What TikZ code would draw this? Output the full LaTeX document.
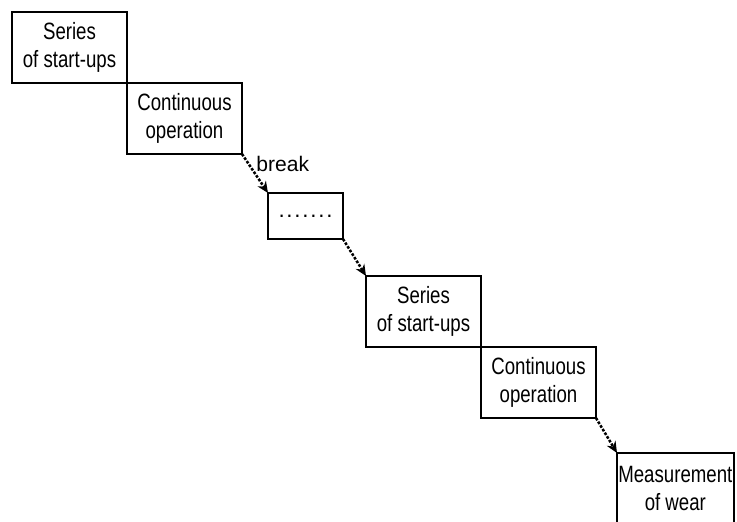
\documentclass[tikz,border=0pt]{standalone}
\usepackage{fontspec}
\newfontfamily\narrowsf[FakeStretch=0.79]{Liberation Sans}
\newfontfamily\plainsf{Liberation Sans}
\newfontfamily\dotsf[LetterSpace=8]{Liberation Sans}
\usetikzlibrary{arrows.meta, positioning}

\begin{document}
\begin{tikzpicture}[
    box/.style={draw, line width=1.7pt, outer sep=0pt, minimum width=86.25pt, minimum height=53.25pt,
      inner sep=1pt, align=center, font=\narrowsf\fontsize{17.7pt}{20.5pt}\selectfont},
    gapbox/.style={draw, line width=2pt, outer sep=0pt, minimum width=56.25pt, minimum height=34.5pt,
      inner sep=1pt, font=\dotsf\fontsize{16.7pt}{19.5pt}\selectfont},
    lbl/.style={inner sep=1pt, font=\plainsf\fontsize{15.8pt}{18pt}\selectfont},
    arr/.style={-{Stealth[length=8.5pt, width=7.5pt]}, line width=1.9pt, dash pattern=on 2pt off 1.2pt},
  ]
  \useasboundingbox (0,0) rectangle (552.75pt,-390.75pt);
  \clip (0,0) rectangle (552.75pt,-390.75pt);

  % first round
  \node[box, anchor=north west] (s1) at (9pt,-9pt) {Series\\of start-ups};
  \node[box, below right=0pt and 0pt of s1] (c1) {Continuous\\operation};
  \node[gapbox, below right=29.25pt and 19.5pt of c1] (br) {.......};

  % last round
  \node[box, below right=27.75pt and 17.25pt of br] (s2) {Series\\of start-ups};
  \node[box, below right=0pt and 0pt of s2] (c2) {Continuous\\operation};
  \node[box, below right=26.25pt and 15.75pt of c2] (m) {Measurement\\of wear};

  \draw[arr] (c1.south east) -- node[lbl, pos=0.25, anchor=west, xshift=4pt] {break} (br.north west);
  \draw[arr] (br.south east) -- (s2.north west);
  \draw[arr] (c2.south east) -- (m.north west);
\end{tikzpicture}
\end{document}
